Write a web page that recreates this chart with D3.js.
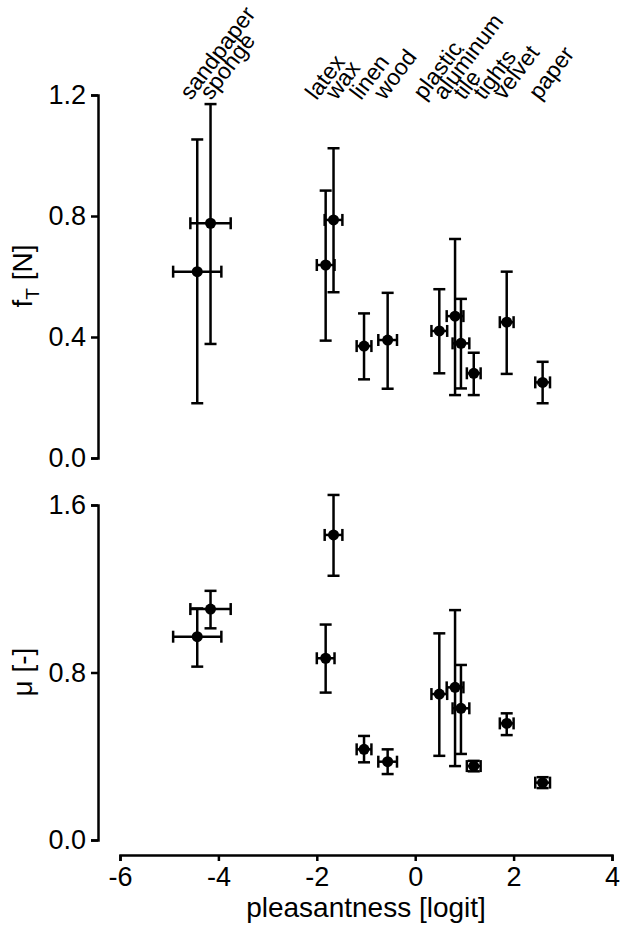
<!DOCTYPE html>
<html>
<head>
<meta charset="utf-8">
<script src="https://cdn.jsdelivr.net/npm/d3@7"></script>
<style>
  body { margin: 0; background: #fff; }
  text { font-family: "Liberation Sans", Arial, sans-serif; fill: #000; }
</style>
</head>
<body>
<script>
// materials, ordered by pleasantness
var materials = ["sandpaper", "sponge", "latex", "wax", "linen", "wood",
                 "plastic", "aluminum", "tile", "tights", "velvet", "paper"];
var pleasant    = [-4.43, -4.16, -1.82, -1.66, -1.04, -0.56, 0.49, 0.81, 0.93, 1.19, 1.86, 2.59];
var pleasantErr = [0.49, 0.41, 0.18, 0.18, 0.15, 0.19, 0.16, 0.17, 0.17, 0.14, 0.14, 0.15];

// tangential force f_T [N]: mean, lower and upper end of bar
var fT   = [0.616, 0.776, 0.638, 0.787, 0.370, 0.390, 0.420, 0.469, 0.379, 0.280, 0.449, 0.250];
var fTLo = [0.181, 0.377, 0.388, 0.548, 0.260, 0.229, 0.280, 0.208, 0.230, 0.208, 0.278, 0.181];
var fTHi = [1.053, 1.170, 0.884, 1.024, 0.478, 0.546, 0.558, 0.724, 0.526, 0.348, 0.616, 0.318];

// friction coefficient mu
var mu   = [0.971, 1.103, 0.868, 1.457, 0.433, 0.374, 0.697, 0.729, 0.629, 0.353, 0.557, 0.274];
var muLo = [0.828, 1.011, 0.704, 1.262, 0.371, 0.315, 0.402, 0.353, 0.411, 0.328, 0.501, 0.248];
var muHi = [1.106, 1.190, 1.029, 1.648, 0.497, 0.433, 0.987, 1.098, 0.836, 0.378, 0.605, 0.300];

var xTicks = [-6, -4, -2, 0, 2, 4];
var fTTicks = [0, 0.4, 0.8, 1.2];
var muTicks = [0, 0.8, 1.6];

var width = 631, height = 931;

var svg = d3.select("body").append("svg")
    .attr("width", width)
    .attr("height", height);

var x = d3.scaleLinear().domain([-6, 4]).range([120, 612]);
var yTop = d3.scaleLinear().domain([0, 1.2]).range([458, 95]);
var yBot = d3.scaleLinear().domain([0, 1.6]).range([840, 505]);

function styleAxis(g) {
  g.attr("font-family", null);
  g.selectAll("path, line").attr("stroke", "#000").attr("stroke-width", 2.5);
  g.selectAll("text").style("font-size", "27px").attr("fill", "#000");
}

// y axes
svg.append("g")
    .attr("transform", "translate(98,0)")
    .call(d3.axisLeft(yTop).tickValues(fTTicks).tickFormat(d3.format(".1f"))
      .tickSize(7).tickPadding(5))
    .call(styleAxis);

svg.append("g")
    .attr("transform", "translate(98,0)")
    .call(d3.axisLeft(yBot).tickValues(muTicks).tickFormat(d3.format(".1f"))
      .tickSize(7).tickPadding(5))
    .call(styleAxis);

// x axis (plain hyphen for minus, like the original)
svg.append("g")
    .attr("transform", "translate(0,855)")
    .call(d3.axisBottom(x).tickValues(xTicks).tickFormat(function (d) { return String(d); })
      .tickSize(6).tickPadding(6))
    .call(styleAxis);

// axis titles
svg.append("text")
    .attr("x", 366).attr("y", 917)
    .attr("text-anchor", "middle")
    .style("font-size", "28px")
    .text("pleasantness [logit]");

var ft = svg.append("text")
    .attr("transform", "translate(32,276) rotate(-90)")
    .attr("text-anchor", "middle")
    .style("font-size", "28px");
ft.append("tspan").text("f");
ft.append("tspan").attr("dy", 7).style("font-size", "19px").text("T");
ft.append("tspan").attr("dy", -7).text(" [N]");

svg.append("text")
    .attr("transform", "translate(32,672) rotate(-90)")
    .attr("text-anchor", "middle")
    .style("font-size", "28px")
    .text("\u03bc [-]");

// error bars + points
function drawPanel(y, vals, lo, hi) {
  var rows = materials.map(function (m, i) {
    return { x: pleasant[i], xe: pleasantErr[i], y: vals[i], lo: lo[i], hi: hi[i] };
  });
  var g = svg.append("g").attr("stroke", "#000").attr("stroke-width", 2.5);
  var cap = 6;
  var elem = g.selectAll("g").data(rows).enter().append("g");

  // vertical bar
  elem.append("line")
      .attr("x1", function (d) { return x(d.x); })
      .attr("x2", function (d) { return x(d.x); })
      .attr("y1", function (d) { return y(d.lo); })
      .attr("y2", function (d) { return y(d.hi); });
  ["lo", "hi"].forEach(function (k) {
    elem.append("line")
        .attr("x1", function (d) { return x(d.x) - cap; })
        .attr("x2", function (d) { return x(d.x) + cap; })
        .attr("y1", function (d) { return y(d[k]); })
        .attr("y2", function (d) { return y(d[k]); });
  });
  // horizontal bar
  elem.append("line")
      .attr("x1", function (d) { return x(d.x - d.xe); })
      .attr("x2", function (d) { return x(d.x + d.xe); })
      .attr("y1", function (d) { return y(d.y); })
      .attr("y2", function (d) { return y(d.y); });
  [-1, 1].forEach(function (s) {
    elem.append("line")
        .attr("x1", function (d) { return x(d.x + s * d.xe); })
        .attr("x2", function (d) { return x(d.x + s * d.xe); })
        .attr("y1", function (d) { return y(d.y) - cap; })
        .attr("y2", function (d) { return y(d.y) + cap; });
  });
  elem.append("circle")
      .attr("cx", function (d) { return x(d.x); })
      .attr("cy", function (d) { return y(d.y); })
      .attr("r", 5.5)
      .attr("stroke", "none")
      .attr("fill", "#000");
}

drawPanel(yTop, fT, fTLo, fTHi);
drawPanel(yBot, mu, muLo, muHi);

// material labels, spread so they don't overlap
var lx = pleasant.map(function (p) { return x(p); });
var gap = 20;
for (var it = 0; it < 100; it++) {
  for (var i = 1; i < lx.length; i++) {
    var d = lx[i] - lx[i - 1];
    if (d < gap) {
      lx[i - 1] -= (gap - d) / 2;
      lx[i] += (gap - d) / 2;
    }
  }
}

svg.append("g").selectAll("text")
    .data(materials)
    .enter().append("text")
    .attr("transform", function (d, i) {
      return "translate(" + (lx[i] - 3) + ",101) rotate(-53)";
    })
    .style("font-size", "23px")
    .text(function (d) { return d; });
</script>
</body>
</html>
